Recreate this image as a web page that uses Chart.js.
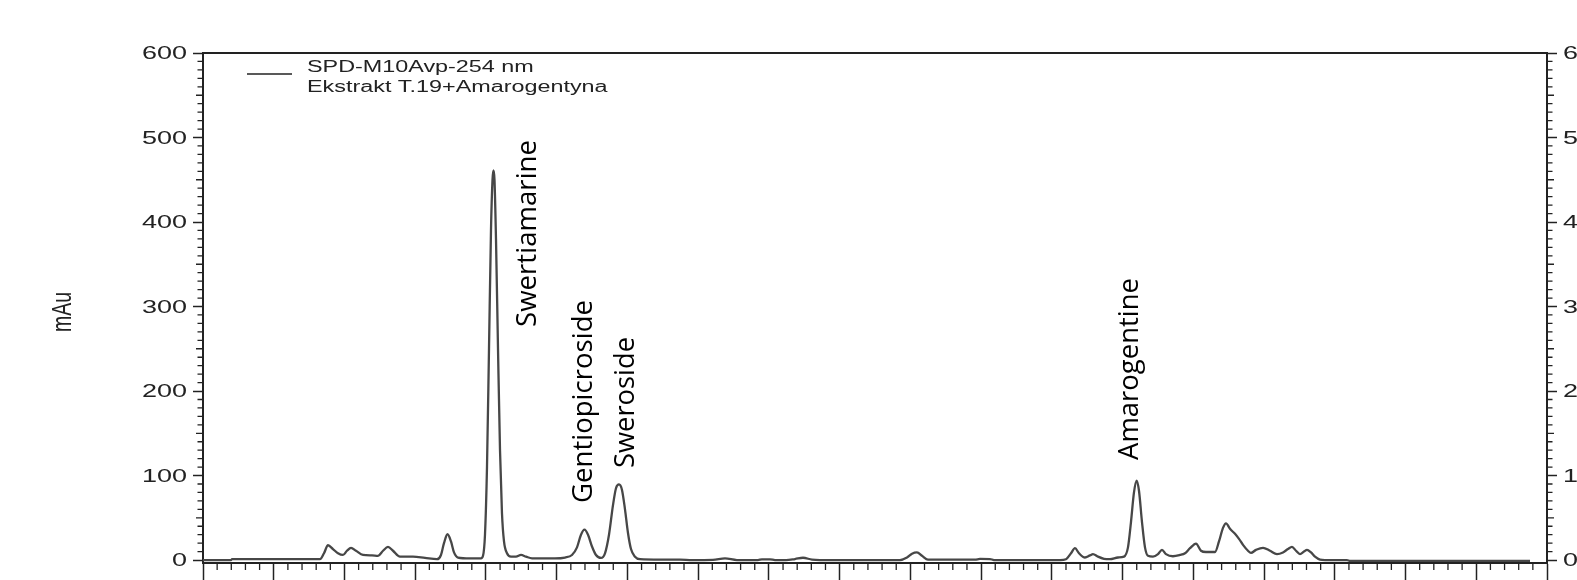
<!DOCTYPE html>
<html><head><meta charset="utf-8">
<script src="https://cdn.jsdelivr.net/npm/chart.js@4.4.1/dist/chart.umd.min.js"></script>
<style>html,body{margin:0;padding:0;background:#fff;overflow:hidden}canvas{display:block}</style>
</head><body>
<canvas id="c" width="1577" height="580"></canvas>
<script>
// retention time (min)
const timeMin = [0.000,0.990,1.025,4.135,4.276,4.418,4.594,4.771,4.948,5.089,5.231,5.407,5.655,5.973,6.185,6.362,6.538,6.715,6.962,7.422,7.846,8.270,8.411,8.517,8.641,8.765,8.871,9.012,9.436,9.825,9.896,9.966,10.037,10.108,10.178,10.232,10.267,10.302,10.355,10.426,10.497,10.567,10.638,10.744,10.885,11.062,11.239,11.415,11.628,12.087,12.440,12.794,13.041,13.218,13.359,13.483,13.607,13.748,13.889,14.066,14.207,14.349,14.490,14.596,14.702,14.808,14.914,15.020,15.126,15.268,15.444,16.151,16.858,17.282,18.024,18.449,18.873,19.615,19.756,20.039,20.216,20.605,20.922,21.205,21.523,21.806,24.633,24.881,25.058,25.234,25.411,25.623,27.284,27.461,27.814,27.955,30.288,30.500,30.677,30.818,30.960,31.172,31.348,31.454,31.631,31.843,32.055,32.338,32.550,32.691,32.797,32.903,32.999,33.080,33.186,33.292,33.398,33.575,33.752,33.893,34.034,34.282,34.529,34.706,34.883,35.095,35.271,35.448,35.766,35.907,36.049,36.155,36.296,36.473,36.614,36.756,36.932,37.038,37.215,37.463,37.710,37.957,38.169,38.346,38.487,38.629,38.770,38.912,39.018,39.159,39.301,39.477,39.654,40.431,40.537,46.899];
// absorbance (mAu)
const absorbance = [0,0,1,1,8,17.5,13,8,6,11,14.5,11,6,5.5,5,11,15.5,11,4,4,2.5,1,6,20,30.5,22,9,3,2,2,5,30,110,250,390,450,461,450,380,250,130,55,22,8,4,4,6,4,2,2,2,3,6,15,30,36,30,16,6,2.5,8,30,65,85,89.5,83,60,32,13,4,1,0.5,0.5,0,0.3,2,0,0,0.8,0.8,0,0,1.2,2.7,0.5,0,0,3,7.5,9,5,0.5,0.5,1.3,1.2,0,0,1,8,14,8,3,5.5,7,4,1.5,1,3,4,15,45,80,94,82,45,15,5,4,7,12,7,4.5,6,8,14,19.5,11,9.5,9.5,22,38,43.5,37,31,25,18,11,8.5,12,14.5,11,7,9,13,15.5,11,7,10,12,9,4,0.5,0,0,-1,-1];

const xMajorTicks = [0,2.5,5,7.5,10,12.5,15,17.5,20,22.5,25,27.5,30,32.5,35,37.5,40,42.5,45,47.5];
const yTicks = [0,100,200,300,400,500,600];
const legendLines = ['SPD-M10Avp-254 nm','Ekstrakt T.19+Amarogentyna'];
const yTitle = 'mAu';
const peakNames = ['Swertiamarine','Gentiopicroside','Sweroside','Amarogentine'];
const peakLabelTime = [11.769,13.748,15.232,33.045];
const peakLabelBase = [275.8,67.5,108.9,118.4];
const peakLabelLen = [187,203,131,182];

const SX = 1.46; // horizontal stretch of the original figure's text
const INK = '#222';

const decor = {
  id:'decor',
  afterDraw(chart){
    const {ctx, chartArea:a, scales:{x,y}} = chart;
    ctx.save();
    ctx.strokeStyle = INK;
    // top frame line
    ctx.lineWidth = 2;
    ctx.beginPath(); ctx.moveTo(a.left-1,a.top); ctx.lineTo(a.right+1,a.top); ctx.stroke();
    // minor ticks
    ctx.lineWidth = 1.3;
    ctx.beginPath();
    for(let i=0;i<=95;i++){
      if(i%5===0) continue;
      const px = x.getPixelForValue(i*0.5);
      ctx.moveTo(px,a.bottom); ctx.lineTo(px,a.bottom+7);
    }
    for(let i=0;i<=60;i++){
      if(i%10===0) continue;
      const py = y.getPixelForValue(i*10);
      const L = (i%5===0)?7:5.5;
      ctx.moveTo(a.left,py); ctx.lineTo(a.left-L,py);
      ctx.moveTo(a.right,py); ctx.lineTo(a.right+L,py);
    }
    ctx.stroke();

    // tick labels
    ctx.fillStyle = INK;
    ctx.font = '18.5px "Liberation Sans", Arial, sans-serif';
    ctx.textBaseline = 'middle';
    yTicks.forEach(v=>{
      const py = y.getPixelForValue(v)+1;
      ctx.save(); ctx.translate(a.left-16,py); ctx.scale(SX,1); ctx.textAlign='right'; ctx.fillText(String(v),0,0); ctx.restore();
      ctx.save(); ctx.translate(a.right+16,py); ctx.scale(SX,1); ctx.textAlign='left'; ctx.fillText(String(v),0,0); ctx.restore();
    });

    // y title
    ctx.save();
    ctx.font = '19.5px "Liberation Sans", Arial, sans-serif';
    ctx.translate(63,(a.top+a.bottom)/2+4); ctx.scale(SX,1); ctx.rotate(-Math.PI/2);
    ctx.textAlign='center'; ctx.textBaseline='middle';
    ctx.fillText(yTitle,0,0);
    ctx.restore();

    // legend
    ctx.lineWidth = 1.5;
    ctx.beginPath(); ctx.moveTo(a.left+44,a.top+21); ctx.lineTo(a.left+89,a.top+21); ctx.stroke();
    ctx.font = '16px "Liberation Sans", Arial, sans-serif';
    ctx.textBaseline = 'alphabetic'; ctx.textAlign='left';
    legendLines.forEach((t,i)=>{
      ctx.save(); ctx.translate(a.left+104,a.top+19+i*20); ctx.scale(SX,1); ctx.fillText(t,0,0); ctx.restore();
    });

    // peak annotations
    ctx.fillStyle = '#000';
    ctx.font = '28px "Open Sans", "Noto Sans", sans-serif';
    peakNames.forEach((n,i)=>{
      ctx.save();
      ctx.translate(x.getPixelForValue(peakLabelTime[i]), y.getPixelForValue(peakLabelBase[i]));
      ctx.rotate(-Math.PI/2);
      ctx.textAlign='left'; ctx.textBaseline='alphabetic';
      ctx.fillText(n,0,0,peakLabelLen[i]);
      ctx.restore();
    });
    ctx.restore();
  }
};

const axisCommon = (len)=>({
  grid:{display:true, drawOnChartArea:false, drawTicks:true, tickLength:len, tickColor:INK, tickWidth:1.5},
  border:{display:true, color:INK, width:2},
  ticks:{display:false}
});

new Chart(document.getElementById('c'), {
  type:'line',
  data:{ datasets:[{
    label: legendLines[0],
    data: timeMin.map((t,i)=>({x:t, y:absorbance[i]})),
    borderColor:'#474747', borderWidth:2.3, pointRadius:0,
    cubicInterpolationMode:'monotone', fill:false
  }]},
  options:{
    responsive:false, animation:false,
    layout:{padding:{top:53,left:0,right:0,bottom:0}},
    plugins:{legend:{display:false}, tooltip:{enabled:false}},
    scales:{
      x:Object.assign({type:'linear', position:'bottom', min:0, max:47.5,
        afterBuildTicks:s=>{s.ticks = xMajorTicks.map(v=>({value:v}));},
        afterFit:s=>{s.height = 17;}}, axisCommon(20)),
      y:Object.assign({type:'linear', position:'left', min:-3.5, max:600,
        afterBuildTicks:s=>{s.ticks = yTicks.map(v=>({value:v}));},
        afterFit:s=>{s.width = 203;}}, axisCommon(10)),
      y2:Object.assign({type:'linear', position:'right', min:-3.5, max:600,
        afterBuildTicks:s=>{s.ticks = yTicks.map(v=>({value:v}));},
        afterFit:s=>{s.width = 30;}}, axisCommon(10))
    }
  },
  plugins:[decor]
});
</script>
</body></html>
